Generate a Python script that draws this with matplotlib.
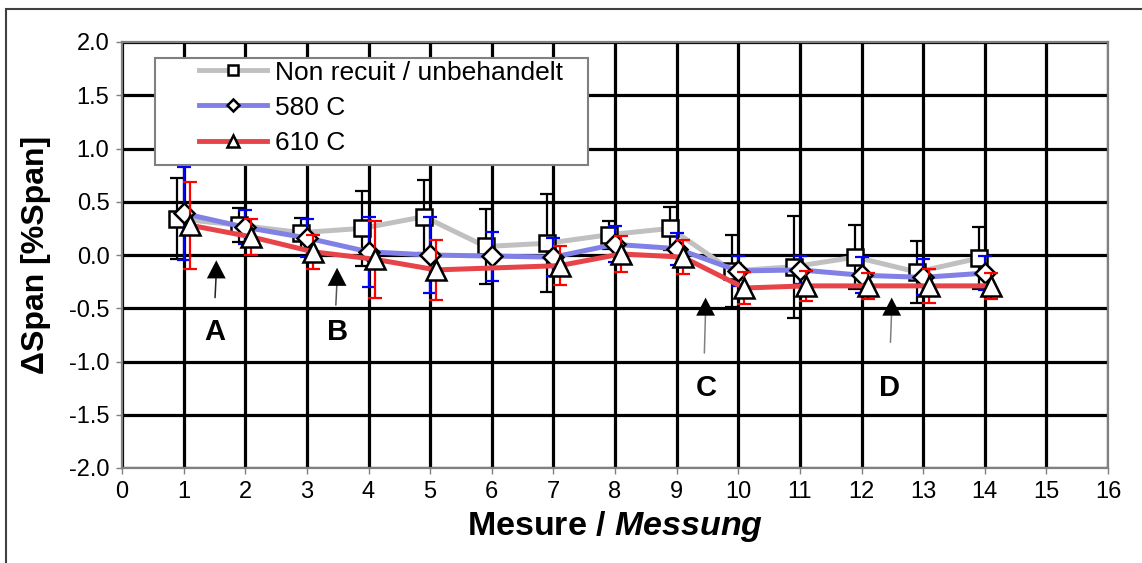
import numpy as np
import matplotlib
matplotlib.use("Agg")
import matplotlib.pyplot as plt
from matplotlib.patches import Rectangle

plt.rcParams['font.family'] = ['Liberation Sans', 'DejaVu Sans']
plt.rcParams['mathtext.fontset'] = 'custom'
plt.rcParams['mathtext.bfit'] = 'Liberation Sans:bold:italic'

# data
mesure = np.arange(1, 15)
labels = ["Non recuit / unbehandelt", "580 C", "610 C"]

non_recuit = [0.34, 0.28, 0.21, 0.25, 0.36, 0.08, 0.11, 0.19, 0.25, -0.15, -0.11, -0.02, -0.16, -0.03]
non_recuit_err = [0.38, 0.16, 0.14, 0.35, 0.34, 0.35, 0.46, 0.13, 0.20, 0.34, 0.48, 0.30, 0.29, 0.29]

c580 = [0.39, 0.26, 0.16, 0.03, 0.00, -0.01, -0.02, 0.10, 0.06, -0.15, -0.14, -0.19, -0.21, -0.17]
c580_err = [0.44, 0.16, 0.18, 0.33, 0.36, 0.23, 0.18, 0.17, 0.15, 0.14, 0.13, 0.17, 0.17, 0.16]

# no 610 C value at measurement 6
c610 = [0.28, 0.17, 0.03, -0.04, -0.14, None, -0.10, 0.01, -0.02, -0.31, -0.29, -0.29, -0.29, -0.29]
c610_err = [0.41, 0.17, 0.16, 0.36, 0.28, None, 0.18, 0.17, 0.16, 0.15, 0.14, 0.12, 0.16, 0.12]

events = ["A", "B", "C", "D"]
arrow_x = [1.53, 3.49, 9.47, 12.49]
arrow_tip = [-0.05, -0.12, -0.40, -0.40]
arrow_bottom = [-0.40, -0.47, -0.92, -0.82]
letter_x = [1.51, 3.5, 9.48, 12.45]
letter_y = [-0.72, -0.72, -1.25, -1.25]

fig = plt.figure(figsize=(11.42, 5.63), dpi=100)
ax = fig.add_axes([122 / 1142, 1 - 468 / 563, 986 / 1142, 426 / 563])

series = [
    (non_recuit, non_recuit_err, -0.1, '#C0C0C0', 'black', 's', 11),
    (c580, c580_err, 0.0, '#8080E6', '#0000FF', 'D', 10),
    (c610, c610_err, 0.1, '#E64448', '#FF0000', '^', 15),
]
handles = []
for i, (vals, err, off, lc, ec, mk, ms) in enumerate(series):
    keep = [v is not None for v in vals]
    xs = (mesure + off)[keep]
    v = np.array([a for a in vals if a is not None], dtype=float)
    e = np.array([a for a in err if a is not None], dtype=float)
    ax.errorbar(xs, v, yerr=e, fmt='none', ecolor=ec, elinewidth=1.6,
                capsize=5, capthick=1.6, zorder=3 + i)
    h, = ax.plot(xs, v, color=lc, lw=3.6, marker=mk, ms=ms, mfc='white',
                 mec='black', mew=1.8, zorder=3.5 + i, label=labels[i])
    handles.append(h)

ax.set_xlim(0, 16)
ax.set_ylim(-2, 2)
ax.set_xticks(np.arange(0, 17, 1))
ax.set_yticks(np.arange(-2, 2.01, 0.5))
ax.set_yticklabels([f"{v:.1f}" for v in np.arange(-2, 2.01, 0.5)])
ax.grid(True, color='black', lw=2.3, zorder=1)
ax.set_axisbelow(True)
ax.tick_params(direction='out', length=4, width=1, color='#808080',
               labelsize=17, pad=5)
for s in ax.spines.values():
    s.set_color('#808080')
    s.set_linewidth(1.6)

ax.set_xlabel("Mesure / $\\mathbfit{Messung}$", fontsize=24.5, fontweight='bold', labelpad=5)
ax.set_ylabel("ΔSpan [%Span]", fontsize=23, fontweight='bold', labelpad=13)

# arrows and letters
head = 0.12
stem_col = ['#222222', '#555555', '#808080', '#808080']
for x, yt, yb, sc in zip(arrow_x, arrow_tip, arrow_bottom, stem_col):
    ax.annotate('', xy=(x, yt - head + 0.01), xytext=(x - 0.02, yb),
                arrowprops=dict(arrowstyle='-', color=sc, lw=1.1,
                                shrinkA=0, shrinkB=0), zorder=6)
    ax.annotate('', xy=(x, yt), xytext=(x, yt - 2.5 * head),
                arrowprops=dict(arrowstyle='-|>,head_length=0.5,head_width=0.26',
                                color='black', lw=0.01, mutation_scale=26,
                                shrinkA=0, shrinkB=0), zorder=6)
for lab, x, y in zip(events, letter_x, letter_y):
    ax.text(x, y, lab, fontsize=21, fontweight='bold', ha='center', va='center', zorder=6)

# legend box
def px2ax(px, py):
    return (px - 122) / 986, (468 - py) / 426

x0, y0 = px2ax(155, 165)
x1, y1 = px2ax(588, 58)
ax.add_patch(Rectangle((x0, y0), x1 - x0, y1 - y0, transform=ax.transAxes,
                       facecolor='white', edgecolor='#808080', lw=1.5, zorder=7))
lx, ly = px2ax(196, 58)
leg = ax.legend(handles=handles, loc='upper left', bbox_to_anchor=(lx, ly),
                frameon=False, borderpad=0.1, borderaxespad=0, fontsize=19,
                handlelength=2.6, handletextpad=0.3, labelspacing=0.42,
                markerscale=0.6)
leg.set_zorder(8)
for h in leg.legend_handles:
    h.set_linewidth(3.5)

# figure border
fig.add_artist(Rectangle((6 / 1142, -0.1), 1.2, 1 - 9 / 563 + 0.1, transform=fig.transFigure,
                         fill=False, edgecolor='#404040', lw=1.5))

fig.savefig("out.png", dpi=100)
